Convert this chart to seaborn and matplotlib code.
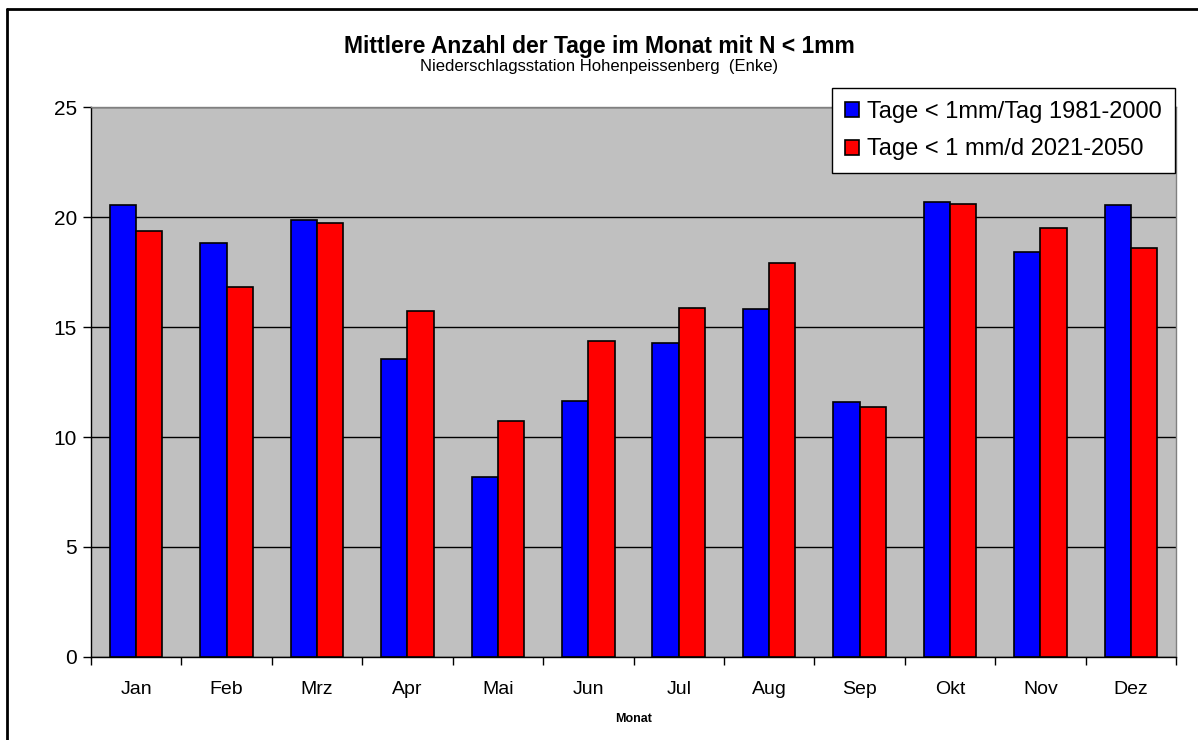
import numpy as np
import pandas as pd
import matplotlib
matplotlib.use("Agg")
import matplotlib.pyplot as plt
import seaborn as sns
from matplotlib.lines import Line2D
from matplotlib.ticker import FixedLocator

# Daten
monate = ["Jan", "Feb", "Mrz", "Apr", "Mai", "Jun", "Jul", "Aug", "Sep", "Okt", "Nov", "Dez"]
tage_1981_2000 = [20.53, 18.83, 19.88, 13.53, 8.20, 11.65, 14.29, 15.83, 11.59, 20.67, 18.42, 20.53]
tage_2021_2050 = [19.38, 16.82, 19.73, 15.73, 10.73, 14.38, 15.88, 17.91, 11.36, 20.61, 19.50, 18.58]
serie_namen = ["Tage < 1mm/Tag 1981-2000", "Tage < 1 mm/d 2021-2050"]
farben = ["#0000ff", "#ff0000"]

df = pd.DataFrame({
    "Monat": monate * 2,
    "Tage": tage_1981_2000 + tage_2021_2050,
    "Serie": [serie_namen[0]] * 12 + [serie_namen[1]] * 12,
})

sns.set_style("white")
plt.rcParams["font.family"] = ["Liberation Sans", "DejaVu Sans"]
plt.rcParams["text.color"] = "black"
plt.rcParams["axes.labelcolor"] = "black"
plt.rcParams["xtick.color"] = "black"
plt.rcParams["ytick.color"] = "black"

fig = plt.figure(figsize=(11.98, 7.40), dpi=100)
ax = fig.add_axes([91 / 1198, 1 - 657 / 740, (1176 - 91) / 1198, (657 - 107) / 740])
ax.set_facecolor("#c0c0c0")

sns.barplot(data=df, x="Monat", y="Tage", hue="Serie", palette=farben,
            width=0.58, edgecolor="black", linewidth=1.2, saturation=1,
            gap=0, ax=ax, zorder=3)

ax.set_ylim(0, 25)
ax.set_xlim(-0.5, 11.5)
ax.set_yticks(np.arange(0, 26, 5))
ax.yaxis.grid(True, color="black", linewidth=1, zorder=0)
ax.set_axisbelow(True)

# Ticks zwischen den Gruppen
ax.set_xticks(range(12))
ax.set_xticklabels(monate)
ax.tick_params(axis="x", which="major", length=0, pad=17, labelsize=14)
ax.xaxis.set_minor_locator(FixedLocator(np.arange(-0.5, 12, 1)))
ax.tick_params(axis="x", which="minor", length=6, width=1, color="black", direction="out", bottom=True)
ax.tick_params(axis="y", length=6, width=1, color="black", direction="out", left=True, labelsize=15, pad=4)

for s in ["top", "right"]:
    ax.spines[s].set_color("#808080")
    ax.spines[s].set_linewidth(1)
for s in ["left", "bottom"]:
    ax.spines[s].set_color("black")
    ax.spines[s].set_linewidth(1)

ax.set_xlabel("Monat", fontsize=9, fontweight="bold", labelpad=11)
ax.set_ylabel("")

leg = ax.legend(loc="upper right", bbox_to_anchor=((1175 - 91) / 1085, (657 - 88) / 550),
                fontsize=17, frameon=True, fancybox=False, framealpha=1,
                edgecolor="black", handlelength=0.6, handleheight=0.6,
                handletextpad=0.35, labelspacing=0.65, borderpad=0.55, borderaxespad=0)
leg.get_frame().set_linewidth(1)

fig.text(0.5, 1 - 46 / 740, "Mittlere Anzahl der Tage im Monat mit N < 1mm",
         ha="center", va="center", fontsize=16.5, fontweight="bold")
fig.text(0.5, 1 - 67 / 740, "Niederschlagsstation Hohenpeissenberg  (Enke)",
         ha="center", va="center", fontsize=12)

# Rahmen oben und links
fig.add_artist(Line2D([7 / 1198, 1], [1 - 9 / 740, 1 - 9 / 740], transform=fig.transFigure,
                      color="black", linewidth=2))
fig.add_artist(Line2D([7 / 1198, 7 / 1198], [0, 1 - 9 / 740], transform=fig.transFigure,
                      color="black", linewidth=2))

fig.savefig("out.png", dpi=100, facecolor="white")
